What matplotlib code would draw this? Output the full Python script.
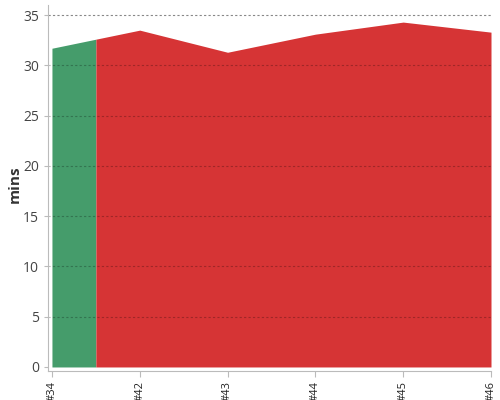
import numpy as np
import matplotlib.pyplot as plt

builds = ["#34", "#42", "#43", "#44", "#45", "#46"]
durations = [31.7, 33.5, 31.3, 33.1, 34.3, 33.3]
threshold = 35
ok_until = 0.5  # green part ends halfway to the next build

plt.rcParams['font.family'] = ['Open Sans', 'DejaVu Sans']

fig = plt.figure(figsize=(5, 4), dpi=100)
ax = fig.add_axes([0.096, 0.0725, 0.886, 0.915])

x = np.arange(len(builds))
xs = np.linspace(0, len(builds) - 1, 1001)
ys = np.interp(xs, x, durations)
green = xs <= ok_until
red = xs >= ok_until
ax.fill_between(xs[green], 0, ys[green], color="#459c6b", linewidth=0, zorder=1)
ax.fill_between(xs[red], 0, ys[red], color="#d63435", linewidth=0, zorder=1)

for v in range(5, threshold, 5):
  ax.axhline(v, color="black", alpha=0.25, linestyle=(0, (2, 2)), linewidth=0.8, zorder=2)
ax.axhline(threshold, color="#888888", linestyle=(0, (2, 2)), linewidth=0.8, zorder=2)

ax.set_xticks(x)
ax.set_xticklabels(builds, rotation=90, fontsize=8, color="#222222")
ax.set_yticks(range(0, 36, 5))
ax.tick_params(axis="y", labelsize=10, colors="#444444", length=3, color="#bbbbbb")
ax.tick_params(axis="x", length=4, color="#bbbbbb")
ax.set_xlim(-0.045, len(builds) - 1)
ax.set_ylim(-0.4, 36)
ax.set_ylabel("mins", fontsize=11, fontweight="bold", color="#333333")
ax.yaxis.set_label_coords(-0.06, 0.51)

for s in ["top", "right"]:
  ax.spines[s].set_visible(False)
for s in ["left", "bottom"]:
  ax.spines[s].set_color("#bbbbbb")

fig.savefig("out.png")
